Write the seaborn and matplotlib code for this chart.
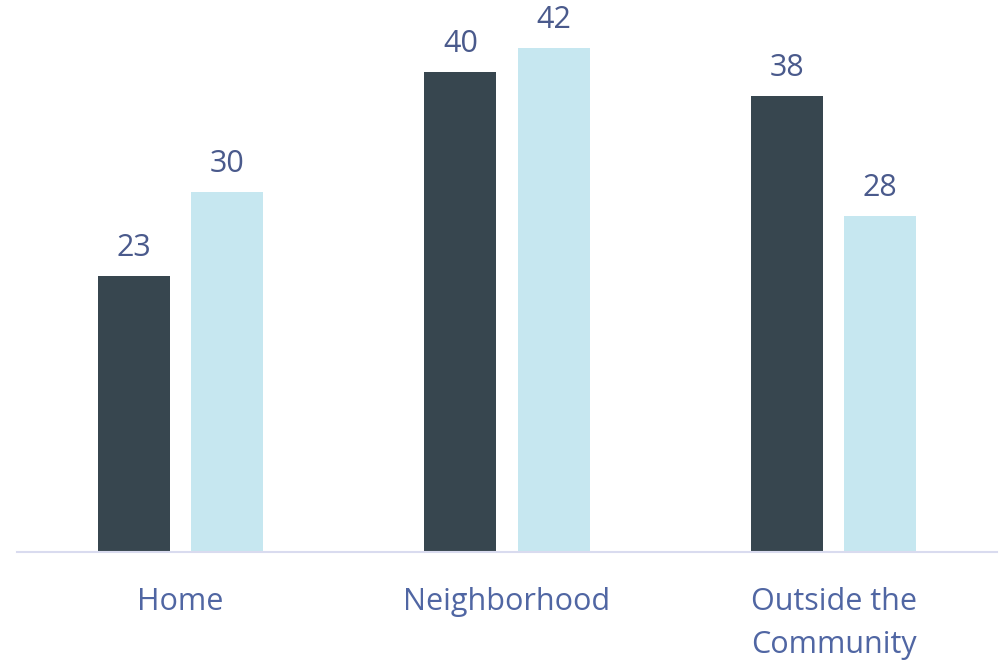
import matplotlib
matplotlib.use("Agg")
import matplotlib.pyplot as plt
import seaborn as sns
import pandas as pd

categories = ["Home", "Neighborhood", "Outside the\nCommunity"]
series_names = ["Series A", "Series B"]
series_a = [23, 40, 38]
series_b = [30, 42, 28]

df = pd.DataFrame({
    "category": categories * 2,
    "series": [series_names[0]] * 3 + [series_names[1]] * 3,
    "value": series_a + series_b,
})

sns.set_theme(style="white")
plt.rcParams["font.family"] = ["Open Sans", "DejaVu Sans"]

fig = plt.figure(figsize=(10.02, 6.63), dpi=100)
ax = fig.add_axes([17 / 1002, 111 / 663, 980 / 1002, 552 / 663])

sns.barplot(data=df, x="category", y="value", hue="series",
            palette=["#37464f", "#c6e7f0"], width=0.57, gap=0.226,
            legend=False, ax=ax, saturation=1, linewidth=0)

for c in ax.containers:
    ax.bar_label(c, padding=9, fontsize=22, color="#4a5a8c")

ax.set_xlim(-0.5, 2.5)
ax.set_ylim(0, 46)
ax.set_xlabel("")
ax.set_ylabel("")
ax.set_yticks([])
for s in ["top", "right", "left"]:
    ax.spines[s].set_visible(False)
ax.spines["bottom"].set_color("#d9dbef")
ax.spines["bottom"].set_linewidth(1.5)
ax.tick_params(axis="x", length=0, pad=25.5, labelsize=22, colors="#5066a3")
for t in ax.get_xticklabels():
    t.set_linespacing(1.55)
    t.set_verticalalignment("top")

fig.savefig("out.png", dpi=100, facecolor="white")
